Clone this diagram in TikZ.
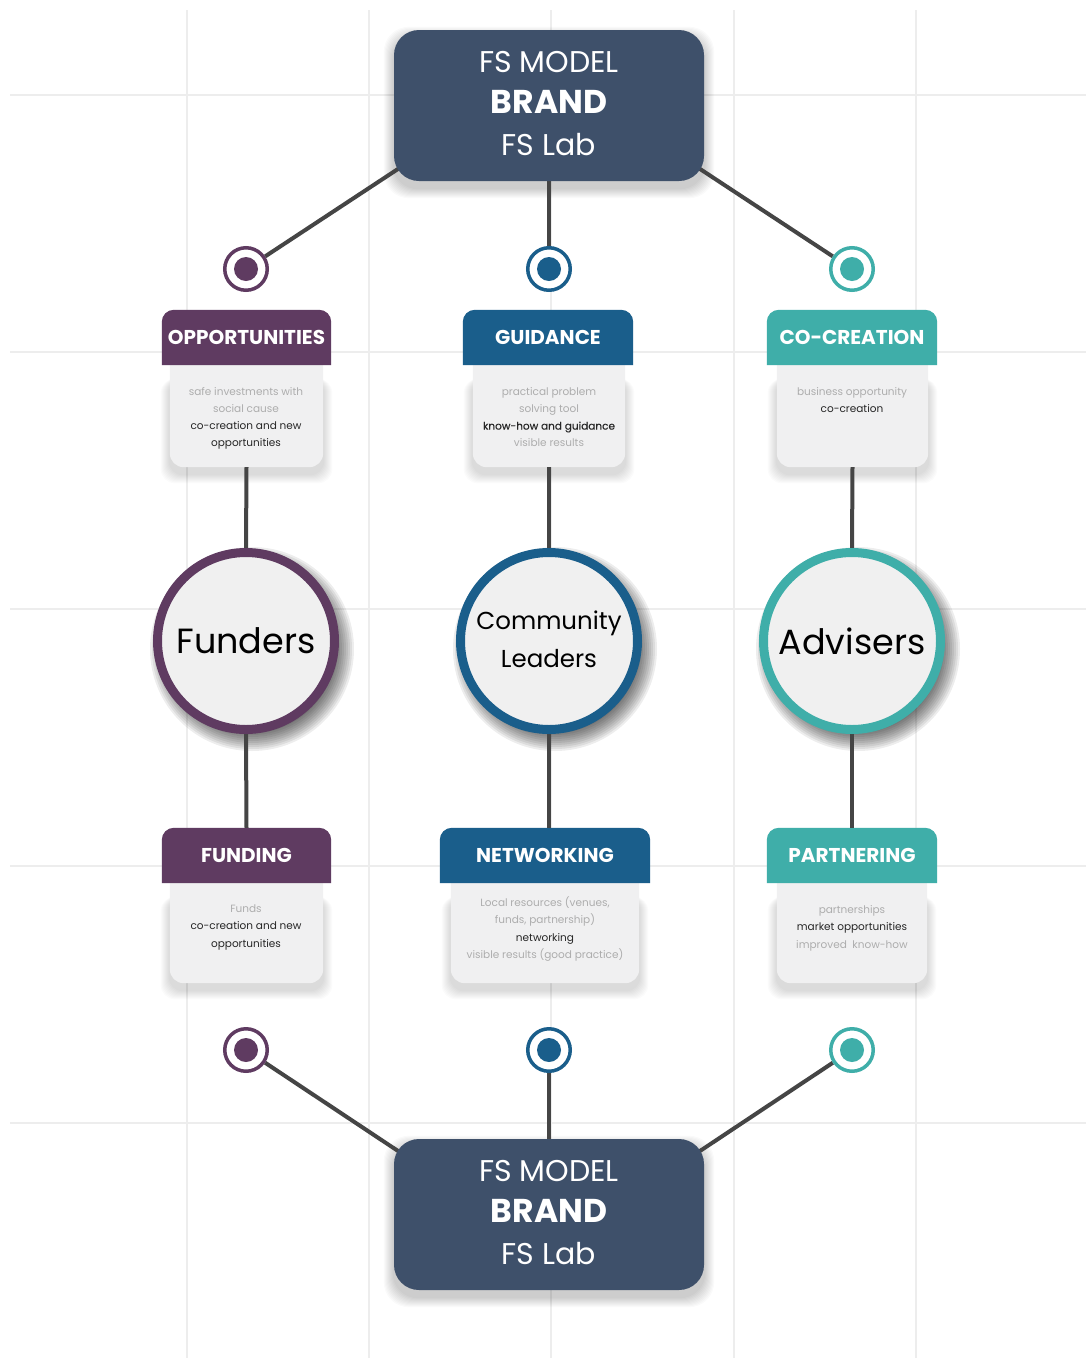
\documentclass[tikz,border=0pt]{standalone}
\usepackage{fontspec}
\setmainfont{Poppins}
\definecolor{slate}{HTML}{3E506A}
\definecolor{purp}{HTML}{5F3B61}
\definecolor{blu}{HTML}{1A5E8B}
\definecolor{tea}{HTML}{3FAEA9}
\definecolor{linec}{HTML}{454545}
\definecolor{cardc}{HTML}{F0F0F1}
\definecolor{circc}{HTML}{F0F0F0}
\definecolor{gridc}{HTML}{EDEDED}
\definecolor{lighttext}{HTML}{ADADAD}
\definecolor{darktext}{HTML}{262626}
\pgfdeclarelayer{gridl}
\pgfdeclarelayer{backl}
\pgfsetlayers{gridl,backl,main}
\tikzset{
  gridline/.style={gridc, line width=2.5pt},
  conn/.style={linec, line width=4pt},
  softshade/.style={black, opacity=#1},
  brandbox/.style={rectangle, rounded corners=25pt, fill=slate, minimum width=310pt, minimum height=151pt, inner sep=0pt, text=white, align=center,
    font=\fontsize{30}{41.5}\selectfont},
  target/.style={circle, minimum size=42.5pt, inner sep=0pt, draw=#1, line width=3.5pt, fill=white,
    path picture={\fill[#1] (path picture bounding box.center) circle[radius=12pt];}},
  tablabel/.style={rectangle, minimum height=55pt, inner sep=0pt, text=white, font=\fontsize{20}{22}\selectfont\bfseries},
  cardbox/.style={rectangle, inner sep=0pt},
  cardtext/.style={inner sep=0pt, align=center, text=lighttext, font=\fontsize{10.5}{17.3}\selectfont},
  bigcircle/.style={circle, minimum size=177pt, inner sep=0pt, draw=#1, line width=9pt, fill=circc, text=black},
  bigname/.style={font=\fontsize{35}{40}\selectfont},
  smallname/.style={align=center, font=\fontsize{24.5}{38}\selectfont},
}
\newcommand{\dk}[1]{\textcolor{darktext}{#1}}
\newcommand{\dkb}[1]{\textcolor{darktext}{\addfontfeature{FakeBold=0.4}#1}}
\begin{document}
\begin{tikzpicture}[x=1pt,y=-1pt]
\useasboundingbox (0,0) rectangle (1086,1358);
% grid
\begin{pgfonlayer}{gridl}
\fill[white] (0,0) rectangle (1086,1358);
\foreach \gx in {187,369,551,734,916} \draw[gridline] (\gx,10) -- (\gx,1358);
\foreach \gy in {95,352,609,866,1123} \draw[gridline] (10,\gy) -- (1086,\gy);
\end{pgfonlayer}

% brand boxes
\node[brandbox] (top) at (549,105.5) {\strut FS MODEL\\\strut\fontsize{33}{41.5}\selectfont\bfseries BRAND\\\strut FS Lab};
\node[brandbox] (bot) at (549,1214.5) {\strut FS MODEL\\\strut\fontsize{33}{41.5}\selectfont\bfseries BRAND\\\strut FS Lab};

% targets
\node[target=purp] (ta1) at (246,269) {};
\node[target=blu]  (ta2) at (549,269) {};
\node[target=tea]  (ta3) at (852,269) {};
\node[target=purp] (tb1) at (246,1050) {};
\node[target=blu]  (tb2) at (549,1050) {};
\node[target=tea]  (tb3) at (852,1050) {};

% tabs
\node[tablabel, minimum width=169pt] (t1) at (246.5,337.5) {OPPORTUNITIES};
\node[tablabel, minimum width=170pt] (t2) at (548,337.5) {GUIDANCE};
\node[tablabel, minimum width=170pt] (t3) at (852,337.5) {CO-CREATION};
\node[tablabel, minimum width=169pt] (t4) at (246.5,855.5) {FUNDING};
\node[tablabel, minimum width=210pt] (t5) at (545,855.5) {NETWORKING};
\node[tablabel, minimum width=170pt] (t6) at (852,855.5) {PARTNERING};

% cards
\node[cardbox, minimum width=153pt, minimum height=102pt] (c1) at (246.5,416) {};
\node[cardbox, minimum width=152pt, minimum height=102pt] (c2) at (549,416) {};
\node[cardbox, minimum width=151pt, minimum height=102pt] (c3) at (852.5,416) {};
\node[cardbox, minimum width=153pt, minimum height=100pt] (c4) at (246.5,933) {};
\node[cardbox, minimum width=188pt, minimum height=100pt] (c5) at (545,933) {};
\node[cardbox, minimum width=150pt, minimum height=100pt] (c6) at (852,933) {};

\node[cardtext] (x1) at (246,417.5) {\strut safe investments with\\\strut social cause\\\strut\dk{co-creation and new}\\\strut\dk{opportunities}};
\node[cardtext] (x2) at (549,417.5) {\strut practical problem\\\strut solving tool\\\strut\dkb{know-how and guidance}\\\strut visible results};
\node[cardtext] (x3) at (852,400.5) {\strut business opportunity\\\strut\dk{co-creation}};
\node[cardtext] (x4) at (246,926.5) {\strut Funds\\\strut\dk{co-creation and new}\\\strut\dk{opportunities}};
\node[cardtext] (x5) at (545,929) {\strut Local resources (venues,\\\strut funds, partnership)\\\strut\dk{networking}\\\strut visible results (good practice)};
\node[cardtext] (x6) at (852,927.5) {\strut partnerships\\\strut\dk{market opportunities}\\\strut improved\ \ know-how};

% big circles
\node[bigcircle=purp, bigname] (F) at (246,641) {Funders};
\node[bigcircle=blu, smallname] (C) at (549,641) {\strut Community\\\strut Leaders};
\node[bigcircle=tea, bigname] (A) at (852,641) {Advisers};

\begin{pgfonlayer}{backl}
% soft shadows of the brand boxes
\foreach \bx in {top,bot}{
  \foreach \s in {1,...,10}{
    \fill[softshade=0.018, rounded corners=25pt]
      ([xshift={-\s*1pt}, yshift={-7pt-\s*1pt}]\bx.south west) rectangle ([xshift={\s*1pt}, yshift={-7pt+\s*1pt}]\bx.north east);
  }
}
% soft shadows of the big circles
\foreach \bc in {F,C,A}{
  \foreach \r in {84,86,...,102}{
    \fill[softshade=0.07] ([xshift=6pt,yshift=-8pt]\bc.center) circle[radius={\r*1pt}];
  }
}
% card shadows and fills
\foreach \cn in {c1,c2,c3,c4,c5,c6}{
  \foreach \s in {1,...,9}{
    \fill[softshade=0.014, rounded corners=14pt]
      ([xshift={-\s*1pt}, yshift={-7pt-\s*1pt}]\cn.south west) rectangle ([xshift={\s*1pt}, yshift={-14pt}]\cn.north east);
  }
  \fill[cardc]
    (\cn.north west) -- ([yshift=14pt]\cn.south west) arc[start angle=180,end angle=270,radius=14pt]
    -- ([xshift=-14pt]\cn.south east) arc[start angle=270,end angle=360,radius=14pt] -- (\cn.north east) -- cycle;
}
% tab fills
\foreach \tn/\tc in {t1/purp,t2/blu,t3/tea,t4/purp,t5/blu,t6/tea}{
  \fill[\tc] (\tn.south west) -- ([yshift=-12pt]\tn.north west) arc[start angle=180,end angle=90,radius=12pt]
    -- ([xshift=-12pt]\tn.north east) arc[start angle=90,end angle=0,radius=12pt] -- (\tn.south east) -- cycle;
}
% connectors
\draw[conn] (ta1) -- ([xshift=16pt,yshift=20pt]top.south west);
\draw[conn] (top.south) -- (ta2);
\draw[conn] (ta3) -- ([xshift=-16pt,yshift=20pt]top.south east);
\draw[conn] (tb1) -- ([xshift=16pt,yshift=-20pt]bot.north west);
\draw[conn] (tb2) -- (bot.north);
\draw[conn] (tb3) -- ([xshift=-16pt,yshift=-20pt]bot.north east);
\draw[conn] (c1.south) -- (F.north);
\draw[conn] (c2.south) -- (C.north);
\draw[conn] (c3.south) -- (A.north);
\draw[conn] (F.south) -- (t4.north);
\draw[conn] (C.south) -- (t5.north -| C.south);
\draw[conn] (A.south) -- (t6.north);
\end{pgfonlayer}
\end{tikzpicture}
\end{document}
